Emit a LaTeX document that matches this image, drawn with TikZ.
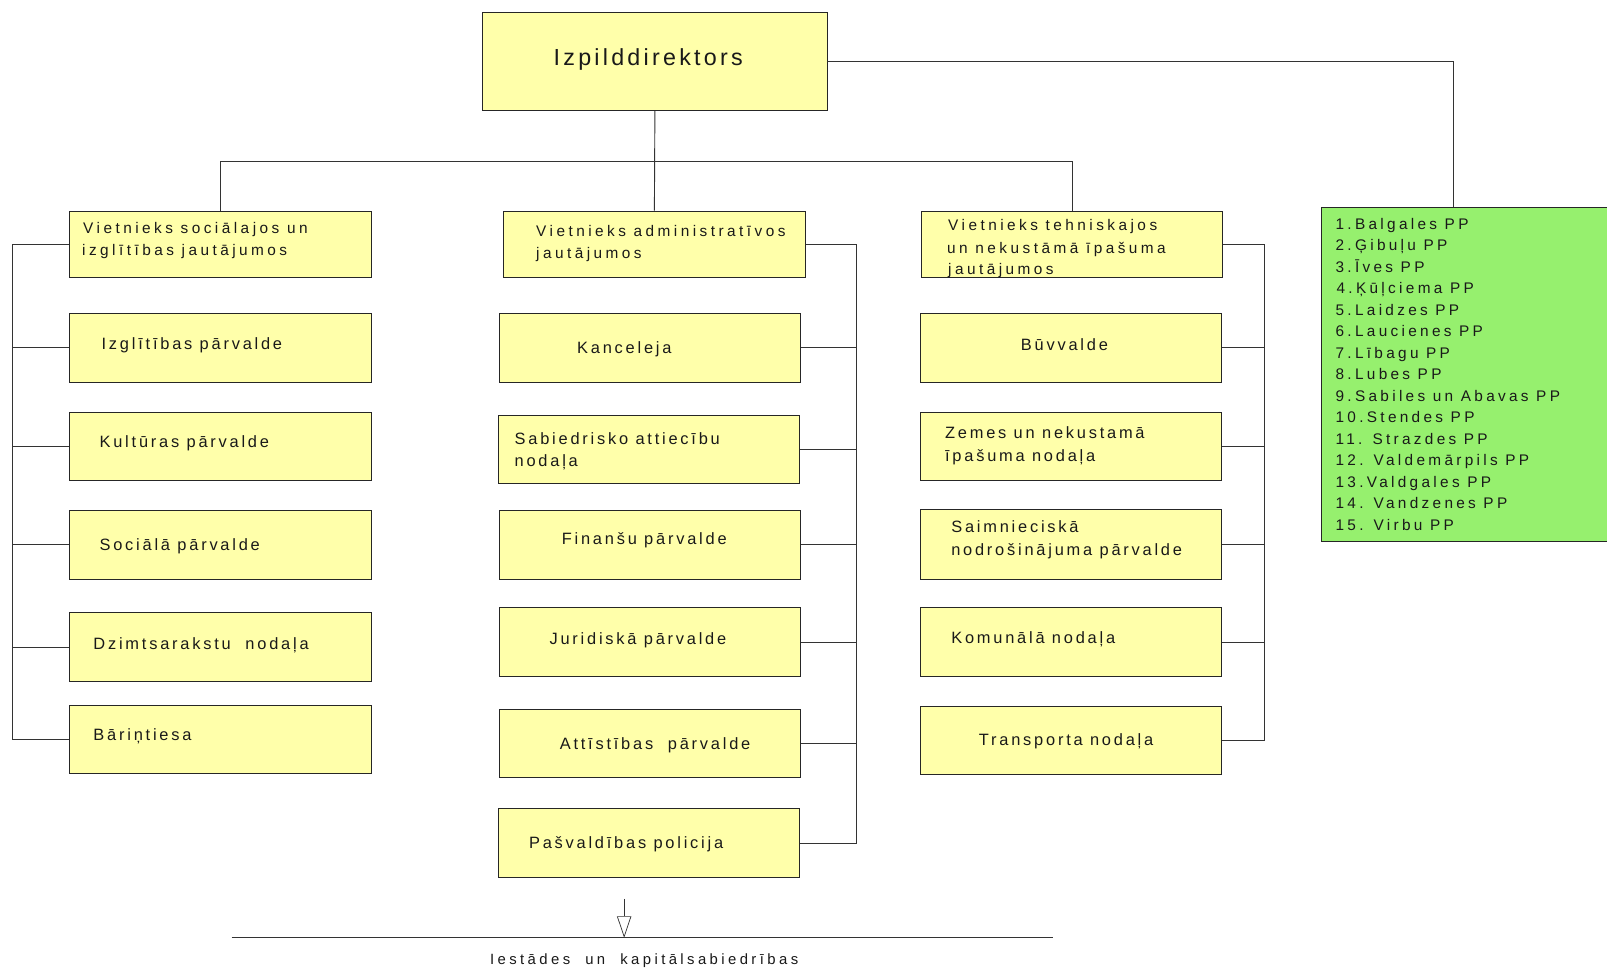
\documentclass[tikz,border=0pt]{standalone}
\usepackage{fontspec}
\setmainfont{Liberation Sans}
\usetikzlibrary{arrows.meta}
\newfontfamily\topfont[LetterSpace=14]{Liberation Sans}
\newfontfamily\depfont[LetterSpace=22.5]{Liberation Sans}
\newfontfamily\kidfont[LetterSpace=17]{Liberation Sans}
\newfontfamily\ppfont[LetterSpace=21.5]{Liberation Sans}
\newfontfamily\botfont[LetterSpace=23]{Liberation Sans}
\definecolor{boxyellow}{HTML}{FFFFAA}
\definecolor{ppgreen}{HTML}{96F06E}
\begin{document}
\begin{tikzpicture}[x=1pt,y=-1pt,
  box/.style={draw=black!85, fill=boxyellow, line width=0.8pt, inner sep=0pt, minimum width=294pt, minimum height=67pt},
  depbox/.style={box, minimum height=65pt},
  conn/.style={draw=black!80, line width=0.9pt},
  txt/.style={anchor=base west, inner sep=0pt, text=black!90},
  toptxt/.style={txt, font=\topfont\fontsize{22.7}{26}\selectfont},
  deptxt/.style={txt, font=\depfont\fontsize{15}{18}\selectfont},
  kidtxt/.style={txt, font=\kidfont\fontsize{16}{19}\selectfont},
  pptxt/.style={txt, font=\ppfont\fontsize{15}{17}\selectfont},
  bottxt/.style={txt, font=\botfont\fontsize{14.5}{17}\selectfont}]
\clip (0,0) rectangle (1568,946);
\fill[white] (0,0) rectangle (1568,946);

% boxes
\node[box, minimum width=336pt, minimum height=96pt] (top) at (639,60) {};
\node[depbox, minimum width=294pt] (dep1) at (215,238.5) {};
\node[depbox, minimum width=295pt] (dep2) at (638.5,238.5) {};
\node[depbox, minimum width=294pt] (dep3) at (1046,238.5) {};
\node[box] (L1) at (215,339.5) {};
\node[box] (L2) at (215,435.5) {};
\node[box] (L3) at (215,531.5) {};
\node[box] (L4) at (215,631.5) {};
\node[box] (L5) at (215,721.5) {};
\node[box] (M1) at (634,339.5) {};
\node[box] (M2) at (633,438.5) {};
\node[box] (M3) at (634,531.5) {};
\node[box] (M4) at (634,626.5) {};
\node[box] (M5) at (634,725.5) {};
\node[box] (M6) at (633,822.5) {};
\node[box] (R1) at (1045,339.5) {};
\node[box] (R2) at (1045,435.5) {};
\node[box, minimum height=68pt] (R3) at (1045,531) {};
\node[box] (R4) at (1045,626.5) {};
\node[box] (R5) at (1045,722.5) {};
\node[box, fill=ppgreen, minimum width=311pt, minimum height=326pt] (pp) at (1444.5,365) {};

% coordinates for buses
\coordinate (hbus) at (0,158);
\coordinate (ppin) at (1418,202);
\coordinate (lbus) at (12,0);
\coordinate (mbus) at (836,0);
\coordinate (rbus) at (1234,0);
\coordinate (arrtop) at (609,877);
\coordinate (arrtip) at (609,915);
\coordinate (bl) at (226,915);
\coordinate (br) at (1027,915);

% connectors
\draw[conn] (top.south) -- (dep2.north);
\draw[conn] (dep1.north) -- (dep1.north |- hbus) -- (dep3.north |- hbus) -- (dep3.north);
\draw[conn] (top.east) -| (ppin);
\draw[conn] (dep1.west) -- (dep1.west -| lbus) -- (L5.west -| lbus) -- (L5.west);
\foreach \n in {L1,L2,L3,L4} \draw[conn] (\n.west) -- (\n.west -| lbus);
\draw[conn] (dep2.east) -- (dep2.east -| mbus) -- (M6.east -| mbus) -- (M6.east);
\foreach \n in {M1,M2,M3,M4,M5} \draw[conn] (\n.east) -- (\n.east -| mbus);
\draw[conn] (dep3.east) -- (dep3.east -| rbus) -- (R5.east -| rbus) -- (R5.east);
\foreach \n in {R1,R2,R3,R4} \draw[conn] (\n.east) -- (\n.east -| rbus);
\draw[conn, line width=0.7pt, -{Triangle[open, length=21pt, width=14pt]}] (arrtop) -- (arrtip);
\draw[conn] (bl) -- (br);

% texts
\node[toptxt] (ttop) at (540,64) {Izpilddirektors};
\node[deptxt] (td1a) at (81,228) {Vietnieks sociālajos un};
\node[deptxt] (td1b) at (80,249) {izglītības jautājumos};
\node[deptxt] (td2a) at (523,231) {Vietnieks administratīvos};
\node[deptxt] (td2b) at (523,252) {jautājumos};
\node[deptxt] (td3a) at (925,225) {Vietnieks tehniskajos};
\node[deptxt] (td3b) at (924,247) {un nekustāmā īpašuma};
\node[deptxt] (td3c) at (925,268) {jautājumos};

\node[kidtxt] (tL1) at (99,341) {Izglītības pārvalde};
\node[kidtxt] (tL2) at (97,437) {Kultūras pārvalde};
\node[kidtxt] (tL3) at (97,537) {Sociālā pārvalde};
\node[kidtxt] (tL4) at (91,634) {Dzimtsarakstu\ \ nodaļa};
\node[kidtxt] (tL5) at (91,723) {Bāriņtiesa};

\node[kidtxt] (tM1) at (563,345) {Kanceleja};
\node[kidtxt] (tM2a) at (502,434) {Sabiedrisko attiecību};
\node[kidtxt] (tM2b) at (502,455) {nodaļa};
\node[kidtxt] (tM3) at (548,531) {Finanšu pārvalde};
\node[kidtxt] (tM4) at (536,629) {Juridiskā pārvalde};
\node[kidtxt] (tM5) at (546,731) {Attīstības\ \ pārvalde};
\node[kidtxt] (tM6) at (516,828) {Pašvaldības policija};

\node[kidtxt] (tR1) at (996,342) {Būvvalde};
\node[kidtxt] (tR2a) at (922,428) {Zemes un nekustamā};
\node[kidtxt] (tR2b) at (922,450) {īpašuma nodaļa};
\node[kidtxt] (tR3a) at (928,520) {Saimnieciskā};
\node[kidtxt] (tR3b) at (928,542) {nodrošinājuma pārvalde};
\node[kidtxt] (tR4) at (928,628) {Komunālā nodaļa};
\node[kidtxt] (tR5) at (955,727) {Transporta nodaļa};

\node[pptxt] (p1) at (1303,223.5) {1.Balgales PP};
\node[pptxt] (p2) at (1303,244.5) {2.Ģibuļu PP};
\node[pptxt] (p3) at (1303,265.5) {3.Īves PP};
\node[pptxt] (p4) at (1304,286.5) {4.Ķūļciema PP};
\node[pptxt] (p5) at (1303,307.5) {5.Laidzes PP};
\node[pptxt] (p6) at (1303,328.5) {6.Laucienes PP};
\node[pptxt] (p7) at (1303,349.5) {7.Lībagu PP};
\node[pptxt] (p8) at (1303,370.5) {8.Lubes PP};
\node[pptxt] (p9) at (1303,391.5) {9.Sabiles un Abavas PP};
\node[pptxt] (p10) at (1303,412.5) {10.Stendes PP};
\node[pptxt] (p11) at (1303,433.5) {11. Strazdes PP};
\node[pptxt] (p12) at (1303,454.5) {12. Valdemārpils PP};
\node[pptxt] (p13) at (1303,475.5) {13.Valdgales PP};
\node[pptxt] (p14) at (1303,496.5) {14. Vandzenes PP};
\node[pptxt] (p15) at (1303,517.5) {15. Virbu PP};

\node[bottxt] (tbot) at (478,941) {Iestādes\ \ un\ \ kapitālsabiedrības};
\end{tikzpicture}
\end{document}
